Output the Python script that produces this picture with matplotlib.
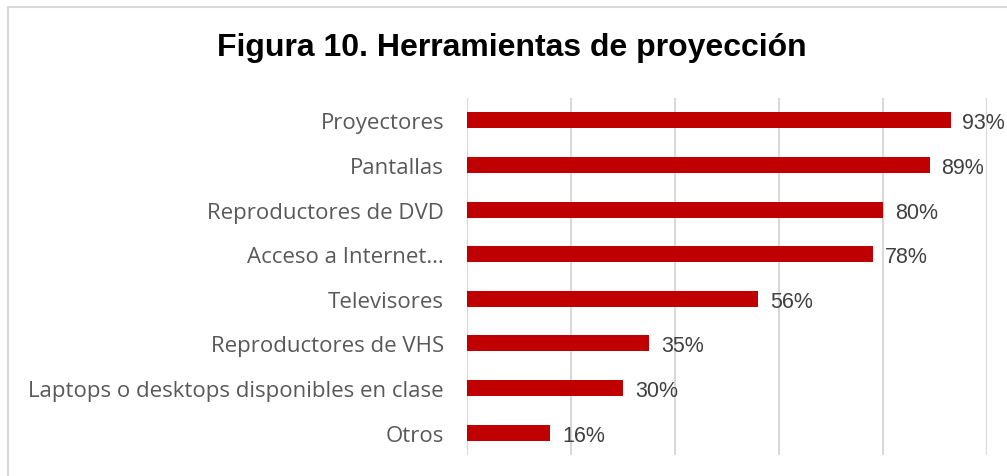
import matplotlib
matplotlib.use("Agg")
import matplotlib.pyplot as plt
from matplotlib.patches import Rectangle

categories = ["Proyectores", "Pantallas", "Reproductores de DVD", "Acceso a Internet…",
              "Televisores", "Reproductores de VHS",
              "Laptops o desktops disponibles en clase", "Otros"]
values = [93, 89, 80, 78, 56, 35, 30, 16]
title = "Figura 10. Herramientas de proyección"

W, H = 1007, 477
fig = plt.figure(figsize=(W / 100, H / 100), dpi=100)
fig.patch.set_facecolor("white")

# chart border (light gray), extends past right and bottom edges
fig.add_artist(Rectangle((8 / W, -0.1), 1.2, 1 - 8 / H + 0.1, transform=fig.transFigure,
                         facecolor="none", edgecolor="#d9d9d9", linewidth=1.5))

ax = fig.add_axes([467 / W, 1 - 456 / H, (987 - 467) / W, (456 - 99) / H])
y = list(range(len(categories)))
ax.barh(y, values, height=0.36, color="#c00000")
ax.set_xlim(0, 100)
ax.set_ylim(len(categories) - 0.5, -0.5)
ax.set_xticks([0, 20, 40, 60, 80, 100])
ax.xaxis.grid(True, color="#d9d9d9", linewidth=1.5)
ax.set_axisbelow(True)
ax.tick_params(axis="x", length=0, labelbottom=False)
ax.tick_params(axis="y", length=0, pad=16.5)
ax.set_yticks(y)
ax.set_yticklabels(categories, fontsize=16, color="#595959", family="Open Sans")
for s in ax.spines.values():
    s.set_visible(False)

for yi, v in zip(y, values):
    ax.annotate(f"{v}%", (v, yi), xytext=(8.5, 0), textcoords="offset points",
                va="center_baseline", ha="left", fontsize=15.5, color="#404040",
                family="Liberation Sans")

fig.text(512 / W, 1 - 48 / H, title, ha="center", va="center", fontsize=23,
         fontweight="bold", family="Liberation Sans", color="black")

fig.savefig("out.png", dpi=100)
